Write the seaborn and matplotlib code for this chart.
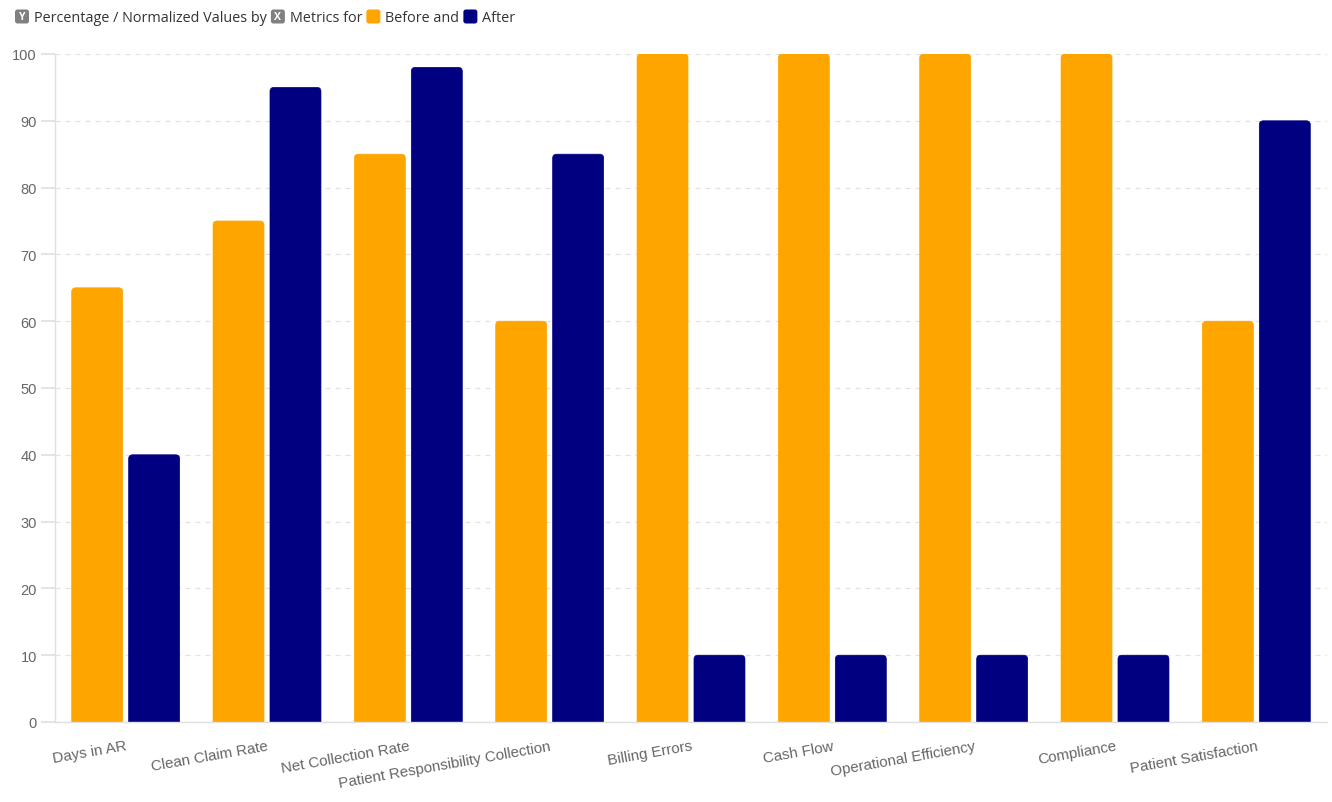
import matplotlib
matplotlib.use("Agg")
import matplotlib.pyplot as plt
from matplotlib.patches import FancyBboxPatch
import seaborn as sns
import pandas as pd

categories = ["Days in AR", "Clean Claim Rate", "Net Collection Rate",
              "Patient Responsibility Collection", "Billing Errors", "Cash Flow",
              "Operational Efficiency", "Compliance", "Patient Satisfaction"]
before_values = [65, 75, 85, 60, 100, 100, 100, 100, 60]
after_values = [40, 95, 98, 85, 10, 10, 10, 10, 90]
series_names = ["Before", "After"]
series_colors = ["#FFA500", "#000080"]
y_ticks = [0, 10, 20, 30, 40, 50, 60, 70, 80, 90, 100]

df = pd.DataFrame({
    "Metric": categories * 2,
    "Value": before_values + after_values,
    "Phase": [series_names[0]] * len(categories) + [series_names[1]] * len(categories),
})

sns.set_theme(style="white")
plt.rcParams["font.family"] = ["Liberation Sans", "DejaVu Sans"]

W, H = 1332, 803
fig = plt.figure(figsize=(W / 100, H / 100), dpi=100)
ax_left, ax_right, ax_top, ax_bot = 55, 1327, 55, 723
ax = fig.add_axes([ax_left / W, 1 - ax_bot / H, (ax_right - ax_left) / W, (ax_bot - ax_top) / H])

sns.barplot(data=df, x="Metric", y="Value", hue="Phase", order=categories,
            hue_order=series_names, palette=series_colors, width=0.806, gap=0.105,
            ax=ax, legend=False, saturation=1)

ax.set_ylim(0, 100)
ax.set_xlim(-0.5, len(categories) - 0.5)

# rounded top corners
px_per_x = (ax_right - ax_left) / len(categories)
px_per_y = (ax_bot - ax_top) / 100.0
r_px = 4
aspect = px_per_x / px_per_y
for p in list(ax.patches):
    x0, y0 = p.get_x(), p.get_y()
    w, h = p.get_width(), p.get_height()
    fc = p.get_facecolor()
    p.set_visible(False)
    extra = 2 * r_px / px_per_y
    rp = FancyBboxPatch((x0, y0 - extra), w, h + extra,
                        boxstyle=f"round,pad=0,rounding_size={r_px / px_per_x}",
                        mutation_aspect=aspect, facecolor=fc,
                        edgecolor=fc, linewidth=0.5, zorder=2)
    ax.add_patch(rp)

ax.set_yticks(y_ticks)
ax.set_yticklabels([str(t) for t in y_ticks], fontsize=10.5, color="#666666")
ax.yaxis.grid(True, linestyle=(0, (4, 4)), color="#e3e3e3", linewidth=0.9)
ax.set_axisbelow(True)
ax.tick_params(axis="y", length=10, color="#e0e0e0", pad=3, left=True)
ax.set_xlabel("")
ax.set_ylabel("")
for s in ["top", "right"]:
    ax.spines[s].set_visible(False)
for s in ["left", "bottom"]:
    ax.spines[s].set_color("#e0e0e0")
    ax.spines[s].set_linewidth(1.0)
    ax.spines[s].set_zorder(3)

ax.set_xticks(range(len(categories)))
ax.set_xticklabels(categories, rotation=10, ha="right", va="top",
                   rotation_mode="anchor", fontsize=10.9, color="#666666")
ax.tick_params(axis="x", length=0, pad=12)

# header legend
fig.canvas.draw()
renderer = fig.canvas.get_renderer()
items = [("box", "#808080", "Y"), ("text", "Percentage / Normalized Values by"),
         ("box", "#808080", "X"), ("text", "Metrics for"),
         ("box", series_colors[0], ""), ("text", series_names[0] + " and"),
         ("box", series_colors[1], ""), ("text", series_names[1])]
x = 15
yc = 17.5
bs = 14
for it in items:
    if it[0] == "box":
        patch = FancyBboxPatch((x / W, 1 - (yc + bs / 2) / H), bs / W, bs / H,
                               boxstyle=f"round,pad=0,rounding_size={2.5 / W}",
                               transform=fig.transFigure, facecolor=it[1],
                               edgecolor="none", mutation_aspect=W / H)
        fig.patches.append(patch)
        if it[2]:
            fig.text((x + bs / 2) / W, 1 - yc / H, it[2], ha="center", va="center",
                     fontsize=7.5, color="white", fontweight="bold",
                     family=["Open Sans", "DejaVu Sans"])
        x += bs + 5
    else:
        t = fig.text(x / W, 1 - (yc + 1) / H, it[1], ha="left", va="center",
                     fontsize=10.4, color="#333333", family=["Open Sans", "DejaVu Sans"])
        bb = t.get_window_extent(renderer)
        x += bb.width + 4

fig.savefig("out.png", dpi=100, facecolor="white")
